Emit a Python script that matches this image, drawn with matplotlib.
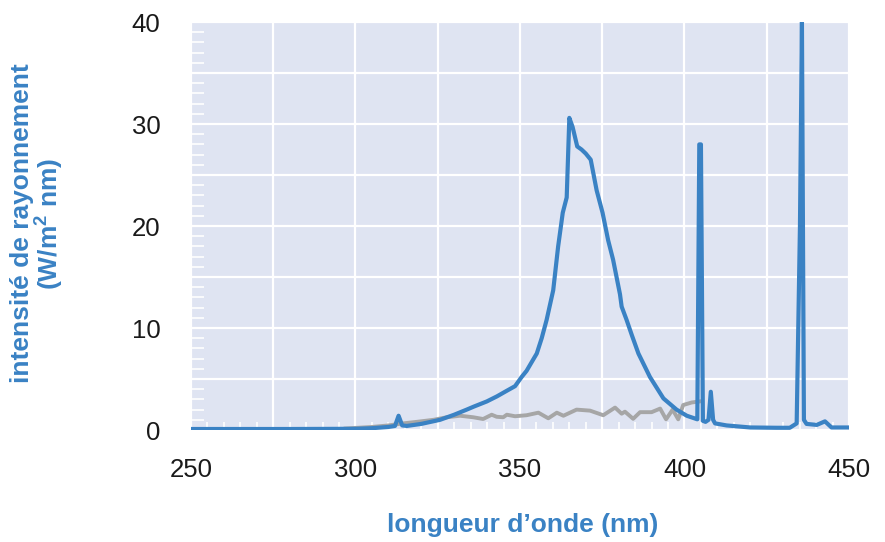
import matplotlib.pyplot as plt
from matplotlib.ticker import MultipleLocator, FuncFormatter

plt.rcParams['font.family'] = ['Liberation Sans', 'DejaVu Sans']

# spectre de la lampe (bleu)
wl_lamp = [250, 280, 300, 305, 310, 312, 313.1, 314.2, 315.6, 320, 325.7, 330, 333.8,
           336, 339.9, 343, 346, 348.5, 350.5, 352, 354, 355.1, 356.6, 358.1, 360.1,
           361.6, 363, 364.2, 365, 366, 367.4, 368.7, 370, 371.5, 373.3, 375.1, 376.8,
           378.3, 380.4, 380.9, 382.4, 384, 386, 389.5, 393.6, 397.6, 400.7, 403.9,
           404.5, 405.0, 405.6, 406.4, 407.3, 408, 408.7, 409.3, 412.8, 420, 428, 432,
           434.1, 435.1, 435.7, 436.3, 437.1, 440.2, 442.7, 444.7, 450]
int_lamp = [0.1, 0.1, 0.12, 0.18, 0.3, 0.4, 1.4, 0.45, 0.4, 0.6, 1.0, 1.5, 2.0,
            2.3, 2.8, 3.3, 3.85, 4.3, 5.2, 5.8, 6.9, 7.5, 9.0, 10.8, 13.7,
            18.0, 21.3, 22.8, 30.6, 29.7, 27.8, 27.5, 27.1, 26.5, 23.5, 21.3, 18.6,
            16.7, 13.3, 12.1, 10.8, 9.3, 7.5, 5.2, 3.1, 2.0, 1.4, 1.05,
            28.0, 28.0, 0.9, 0.8, 1.0, 3.75, 1.0, 0.65, 0.45, 0.25, 0.22, 0.22,
            0.65, 20.0, 40.0, 1.0, 0.6, 0.5, 0.85, 0.25, 0.25]

# spectre de référence (gris)
wl_ref = [297, 305, 310, 314.5, 318.6, 323.7, 327.7, 331.8, 335.8, 338.8, 341.4,
          342.9, 344.9, 346, 348.5, 352, 355.6, 358.6, 361.2, 363.2, 367.2, 371.3,
          375.3, 378.9, 380.9, 381.9, 384.4, 386.5, 390, 392.6, 394.4, 396.4, 398.1,
          399.6, 402.2, 404.5]
int_ref = [0.15, 0.3, 0.45, 0.65, 0.8, 1.0, 1.25, 1.4, 1.25, 1.08, 1.5,
           1.3, 1.25, 1.5, 1.35, 1.45, 1.7, 1.15, 1.7, 1.4, 2.0, 1.9,
           1.45, 2.2, 1.6, 1.8, 1.1, 1.75, 1.75, 2.1, 1.05, 2.0, 1.05,
           2.45, 2.7, 2.8]

blue = '#3a82c4'
fig = plt.figure(figsize=(8.85, 5.42), dpi=100)
ax = fig.add_axes([0.2158, 0.2066, 0.7435, 0.7528])
ax.set_facecolor('#dfe4f2')

ax.plot(wl_ref, int_ref, color='#a6a6a6', lw=2.8, solid_joinstyle='round')
ax.plot(wl_lamp, int_lamp, color=blue, lw=3.0, solid_joinstyle='round')

ax.set_xlim(250, 450)
ax.set_ylim(0, 40)
ax.xaxis.set_major_locator(MultipleLocator(25))
ax.xaxis.set_minor_locator(MultipleLocator(5))
ax.yaxis.set_major_locator(MultipleLocator(5))
ax.yaxis.set_minor_locator(MultipleLocator(1))
ax.xaxis.set_major_formatter(FuncFormatter(lambda v, p: f'{v:.0f}' if v % 50 == 0 else ''))
ax.yaxis.set_major_formatter(FuncFormatter(lambda v, p: f'{v:.0f}' if v % 10 == 0 else ''))

ax.grid(True, which='major', color='white', lw=1.6)
ax.set_axisbelow(True)
ax.tick_params(which='major', length=0, labelsize=18.5, labelcolor='#1a1a1a')
ax.tick_params(axis='x', which='major', pad=20)
ax.tick_params(axis='y', which='major', pad=22)
ax.tick_params(axis='y', which='minor', direction='in', length=9, width=1.2, color='white')
ax.tick_params(axis='x', which='minor', direction='in', length=6, width=1.2, color='white')
for s in ax.spines.values():
    s.set_visible(False)

ax.set_xlabel("longueur d’onde (nm)", color=blue, fontsize=19, fontweight='bold')
ax.set_ylabel("intensité de rayonnement\n(W/m$^{\\mathregular{2}}$ nm)", color=blue,
              fontsize=19, fontweight='bold', linespacing=0.95)
ax.xaxis.set_label_coords(0.504, -0.203)
ax.yaxis.set_label_coords(-0.191, 0.506)

fig.savefig('out.png', dpi=100)
